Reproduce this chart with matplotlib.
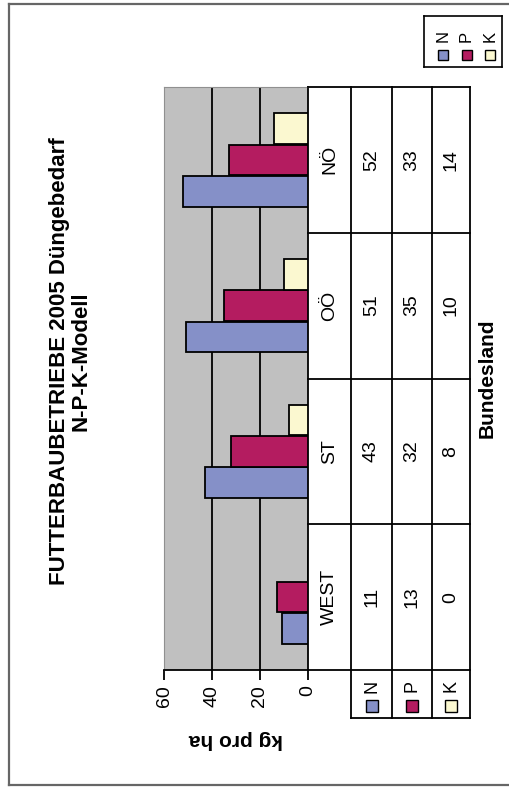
import numpy as np
import matplotlib
matplotlib.use('Agg')
import matplotlib.pyplot as plt
from matplotlib.patches import Rectangle
from matplotlib.lines import Line2D

plt.rcParams['font.family'] = ['Liberation Sans', 'DejaVu Sans']

W, H = 509, 787

laender = ['WEST', 'ST', 'OÖ', 'NÖ']
naehrstoffe = ['N', 'P', 'K']
n_werte = [11, 43, 51, 52]
p_werte = [13, 32, 35, 33]
k_werte = [0, 8, 10, 14]
farben = ['#8590c8', '#b41c60', '#fbf8d0']
value_ticks = [0, 20, 40, 60]

title_1 = 'FUTTERBAUBETRIEBE 2005 Düngebedarf'
title_2 = 'N-P-K-Modell'
y_label = 'kg pro ha'
x_label = 'Bundesland'


def box(x0, y0, x1, y1):
    # pixel box (origin top left) -> figure rect
    return [x0 / W, 1 - y1 / H, (x1 - x0) / W, (y1 - y0) / H]


def fpos(x, y):
    return x / W, 1 - y / H


fig = plt.figure(figsize=(W / 100, H / 100), dpi=100)
fig.patch.set_facecolor('white')

# outer frame (left, top, bottom)
frame_kw = dict(transform=fig.transFigure, color='#666666', lw=1.6)
fig.add_artist(Line2D([9 / W, 9 / W], [1 - 4 / H, 1 - 785 / H], **frame_kw))
fig.add_artist(Line2D([9 / W, 1], [1 - 4 / H, 1 - 4 / H], **frame_kw))
fig.add_artist(Line2D([9 / W, 1], [1 - 785 / H, 1 - 785 / H], **frame_kw))

# bars, drawn horizontally with the value axis running right to left
ax = fig.add_axes(box(164, 87, 308, 670))
ax.set_facecolor('#c0c0c0')
pos = np.arange(len(laender))
offsets = [-0.215, 0, 0.215]
for werte, off, farbe in zip([n_werte, p_werte, k_werte], offsets, farben):
    ax.barh(pos + off, werte, height=0.21, color=farbe, edgecolor='black',
            linewidth=1.3, zorder=3)
for t in value_ticks[1:-1]:
    ax.axvline(t, color='black', lw=1.3, zorder=1)
ax.set_xlim(60, 0)
ax.set_ylim(-0.5, 3.5)
ax.set_yticks([])
ax.set_xticks(value_ticks)
ax.tick_params(axis='x', direction='out', length=7, width=1.3, labelrotation=90,
               labelsize=14, pad=4)
for side in ['left', 'top']:
    ax.spines[side].set_color('#909090')
for side in ['right', 'bottom']:
    ax.spines[side].set_color('black')
    ax.spines[side].set_linewidth(1.3)

# data table below the value axis (x in pixels from the axis line)
row_edges = [0, 43, 84, 124, 162]
key_h = 48 / (583 / 4)
ylo = -0.5 - key_h
tab = fig.add_axes(box(308, 87, 470, 718))
tab.set_xlim(0, 162)
tab.set_ylim(ylo, 3.5)
tab.axis('off')
line_kw = dict(color='black', lw=1.3, clip_on=False)
for yb in np.arange(len(laender) + 1) - 0.5:
    tab.plot([0, 162], [yb, yb], **line_kw)
tab.plot([row_edges[1], 162], [ylo, ylo], **line_kw)
for xb in row_edges[1:]:
    tab.plot([xb, xb], [ylo, 3.5], **line_kw)

mid = [(a + b) / 2 for a, b in zip(row_edges[:-1], row_edges[1:])]
for j, land in enumerate(laender):
    tab.text(mid[0], j, land, rotation=90, ha='center', va='center', fontsize=14)
for i, werte in enumerate([n_werte, p_werte, k_werte]):
    for j, v in enumerate(werte):
        tab.text(mid[i + 1], j, str(v), rotation=90, ha='center', va='center',
                 fontsize=14)
    tab.text(mid[i + 1], -0.5 - 16 / 145.75, naehrstoffe[i], rotation=90,
             ha='center', va='center', fontsize=13)
    sh = 12 / 145.75
    tab.add_patch(Rectangle((mid[i + 1] - 6, -0.744 - sh / 2), 12, sh,
                            facecolor=farben[i], edgecolor='black', lw=1,
                            clip_on=False))

# legend box top right
leg = fig.add_axes(box(424, 16, 502, 67))
leg.set_xlim(0, 78)
leg.set_ylim(51, 0)
leg.set_xticks([])
leg.set_yticks([])
for s in leg.spines.values():
    s.set_color('black')
    s.set_linewidth(1.2)
for i, name in enumerate(naehrstoffe):
    cx = 19 + 23.5 * i
    leg.text(cx, 20, name, rotation=90, ha='center', va='center', fontsize=12)
    leg.add_patch(Rectangle((cx - 5, 34), 10, 10, facecolor=farben[i],
                            edgecolor='black', lw=1))

# titles and axis labels
fig.text(*fpos(59.5, 361), title_1, rotation=90, ha='center', va='center',
         fontsize=16, fontweight='bold')
fig.text(*fpos(80.5, 361), title_2, rotation=90, ha='center', va='center',
         fontsize=16, fontweight='bold')
fig.text(*fpos(236, 740), y_label, rotation=180, ha='center', va='center',
         fontsize=15, fontweight='bold')
fig.text(*fpos(487, 378), x_label, rotation=90, ha='center', va='center',
         fontsize=15, fontweight='bold')

fig.savefig('out.png', dpi=100)
